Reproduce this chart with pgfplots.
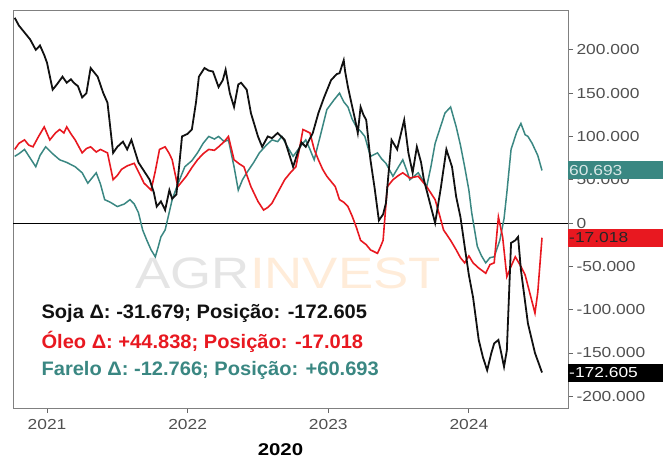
\documentclass[border=0pt]{standalone}
\usepackage{pgfplots}
\pgfplotsset{compat=1.18}
\usepackage{fontspec}
\setmainfont[FakeStretch=1.2]{Liberation Sans}
\newfontfamily\legfont[FakeStretch=1.03]{Liberation Sans Bold}
\usetikzlibrary{calc}
\definecolor{soja}{RGB}{17,17,17}
\definecolor{oleo}{RGB}{232,24,32}
\definecolor{farelo}{RGB}{58,135,130}
\definecolor{tickgray}{RGB}{80,80,80}

\begin{document}
\begin{tikzpicture}
\begin{axis}[
  scale only axis, width=555pt, height=398pt,
  xmin=2020.758, xmax=2024.705, ymin=-213600, ymax=246000,
  axis line style={black!50, line width=0.9pt},
  xtick={2021,2022,2023,2024}, xticklabels={2021,2022,2023,2024},
  ytick={-200000,-150000,...,200000},
  scaled y ticks=false,
  /pgf/number format/assume math mode=true,
  yticklabel={\pgfmathprintnumber[fixed,1000 sep={.}]{\tick}},
  xtick pos=left, ytick pos=right, yticklabel pos=right,
  tick align=outside, major tick length=5pt,
  tick style={black!60, line width=0.8pt},
  ticklabel style={font=\fontsize{14.5}{16}\selectfont, text=tickgray},
  xticklabel style={yshift=-3pt},
  xlabel={\textbf{2020}},
  xlabel style={font=\fontsize{17}{19}\selectfont, text=black, xshift=-10pt, yshift=-7pt},
  clip mode=individual,
]
\coordinate (SW) at (rel axis cs:0,0);
\coordinate (NE) at (rel axis cs:1,1);
\node[font=\fontsize{44}{44}\selectfont] at (axis cs:2022.715,-57700) {{\color{black!10}AGR}{\color{orange!15}INVEST}};

\addplot[black, line width=1pt] coordinates {(2020.758,0) (2024.705,0)};

% Farelo
\addplot[farelo, line width=1.5pt] coordinates {
(2020.77,77000) (2020.80,80000) (2020.84,85000) (2020.88,75000) (2020.92,65000) (2020.95,78000) (2020.99,88000)
(2021.04,80000) (2021.09,73000) (2021.14,70000) (2021.20,65000) (2021.25,58000) (2021.29,46000) (2021.35,58000)
(2021.38,45000) (2021.41,27000) (2021.45,24000) (2021.50,19000) (2021.55,22000) (2021.59,27000) (2021.62,22000)
(2021.65,12000) (2021.68,-8000) (2021.71,-20000) (2021.74,-31000) (2021.77,-39000) (2021.79,-28000) (2021.81,-16000)
(2021.84,-8000) (2021.89,27000) (2021.93,45000) (2021.98,65000) (2022.03,72000) (2022.07,81000) (2022.11,92000)
(2022.15,100000) (2022.19,97000) (2022.22,100000) (2022.26,94000) (2022.29,96000) (2022.33,65000) (2022.36,38000)
(2022.39,50000) (2022.42,58000) (2022.47,70000) (2022.51,81000) (2022.56,90000) (2022.60,96000) (2022.64,94000)
(2022.67,100000) (2022.71,88000) (2022.75,77000) (2022.80,88000) (2022.84,96000) (2022.87,85000) (2022.90,73000)
(2022.95,105000) (2022.99,131000) (2023.04,142000) (2023.08,150000) (2023.11,140000) (2023.14,134000) (2023.17,120000)
(2023.20,111000) (2023.23,106000) (2023.26,100000) (2023.30,77000) (2023.35,81000) (2023.38,74000) (2023.41,69000)
(2023.46,54000) (2023.50,65000) (2023.53,73000) (2023.56,60000) (2023.58,50000) (2023.64,58000) (2023.70,42000)
(2023.73,65000) (2023.76,92000) (2023.80,112000) (2023.83,127000) (2023.87,134000) (2023.91,111000) (2023.94,90000)
(2023.97,65000) (2024.00,38000) (2024.02,12000) (2024.06,-27000) (2024.09,-38000) (2024.12,-46000) (2024.15,-40000)
(2024.18,-39000) (2024.22,-20000) (2024.25,5000) (2024.27,35000) (2024.30,85000) (2024.34,105000) (2024.37,115000)
(2024.40,102000) (2024.42,100000) (2024.45,92000) (2024.49,78000) (2024.52,60693)
};

% Oleo
\addplot[oleo, line width=1.6pt] coordinates {
(2020.77,85000) (2020.80,92000) (2020.84,96000) (2020.87,90000) (2020.90,88000) (2020.94,100000) (2020.98,111000)
(2021.02,96000) (2021.06,104000) (2021.09,108000) (2021.12,104000) (2021.14,111000) (2021.17,103000) (2021.20,96000)
(2021.25,81000) (2021.28,86000) (2021.31,88000) (2021.35,82000) (2021.38,85000) (2021.43,81000) (2021.47,50000)
(2021.50,55000) (2021.53,62000) (2021.57,66000) (2021.62,69000) (2021.66,56000) (2021.69,46000) (2021.74,38000)
(2021.77,60000) (2021.80,85000) (2021.84,88000) (2021.87,80000) (2021.89,73000) (2021.93,42000) (2021.96,48000)
(2021.99,54000) (2022.03,64000) (2022.07,73000) (2022.11,80000) (2022.15,85000) (2022.19,84000) (2022.22,88000)
(2022.26,94000) (2022.29,100000) (2022.33,73000) (2022.37,68000) (2022.40,65000) (2022.45,42000) (2022.50,25000)
(2022.54,15000) (2022.57,18000) (2022.60,23000) (2022.64,35000) (2022.69,50000) (2022.73,58000) (2022.77,65000)
(2022.80,90000) (2022.82,108000) (2022.87,104000) (2022.90,85000) (2022.93,73000) (2022.96,62000) (2022.99,54000)
(2023.02,48000) (2023.05,42000) (2023.08,27000) (2023.11,24000) (2023.14,19000) (2023.17,8000) (2023.20,-5000)
(2023.23,-20000) (2023.27,-25000) (2023.30,-31000) (2023.35,-35000) (2023.37,-28000) (2023.39,-20000) (2023.42,42000)
(2023.46,50000) (2023.50,55000) (2023.53,58000) (2023.58,52000) (2023.64,54000) (2023.67,48000) (2023.70,42000)
(2023.76,27000) (2023.79,10000) (2023.82,-8000) (2023.87,-20000) (2023.91,-31000) (2023.94,-40000) (2023.97,-46000)
(2024.00,-38000) (2024.03,-46000) (2024.07,-52000) (2024.12,-58000) (2024.15,-48000) (2024.18,-46000) (2024.21,7000)
(2024.24,-16000) (2024.27,-62000) (2024.30,-50000) (2024.33,-39000) (2024.37,-50000) (2024.40,-60000) (2024.44,-85000)
(2024.47,-104000) (2024.49,-80000) (2024.52,-17018)
};

% Soja
\addplot[soja, line width=1.8pt] coordinates {
(2020.77,237000) (2020.80,228000) (2020.84,220000) (2020.88,212000) (2020.92,200000) (2020.95,205000) (2020.98,194000)
(2021.00,185000) (2021.04,154000) (2021.07,160000) (2021.11,169000) (2021.14,162000) (2021.17,166000) (2021.19,162000)
(2021.22,158000) (2021.25,145000) (2021.28,150000) (2021.31,179000) (2021.36,169000) (2021.40,150000) (2021.43,139000)
(2021.47,81000) (2021.50,88000) (2021.54,94000) (2021.57,85000) (2021.60,96000) (2021.65,70000) (2021.69,60000)
(2021.73,50000) (2021.76,35000) (2021.78,19000) (2021.81,25000) (2021.84,15000) (2021.87,38000) (2021.89,28000)
(2021.92,33000) (2021.96,100000) (2022.00,103000) (2022.03,108000) (2022.06,140000) (2022.08,169000) (2022.12,179000)
(2022.15,176000) (2022.18,175000) (2022.22,157000) (2022.25,165000) (2022.27,177000) (2022.30,150000) (2022.33,134000)
(2022.36,160000) (2022.38,162000) (2022.42,154000) (2022.45,127000) (2022.50,100000) (2022.53,88000) (2022.57,100000)
(2022.60,98000) (2022.64,104000) (2022.69,96000) (2022.75,65000) (2022.78,80000) (2022.81,93000) (2022.84,88000)
(2022.89,104000) (2022.93,127000) (2022.97,145000) (2023.02,165000) (2023.06,172000) (2023.08,173000) (2023.11,188000)
(2023.12,175000) (2023.14,157000) (2023.16,142000) (2023.19,120000) (2023.21,104000) (2023.23,134000) (2023.25,125000)
(2023.27,119000) (2023.30,73000) (2023.33,40000) (2023.36,3000) (2023.39,10000) (2023.41,23000) (2023.45,96000)
(2023.49,85000) (2023.54,119000) (2023.57,81000) (2023.60,58000) (2023.63,88000) (2023.66,70000) (2023.68,50000)
(2023.72,25000) (2023.76,0) (2023.80,40000) (2023.84,85000) (2023.88,65000) (2023.91,30000) (2023.94,7000)
(2023.97,-27000) (2024.00,-60000) (2024.03,-86000) (2024.07,-135000) (2024.10,-155000) (2024.13,-170000) (2024.16,-150000)
(2024.18,-139000) (2024.21,-135000) (2024.23,-150000) (2024.25,-166000) (2024.27,-147000) (2024.30,-23000) (2024.33,-20000)
(2024.35,-16000) (2024.37,-54000) (2024.42,-116000) (2024.47,-150000) (2024.52,-172605)
};

\node[anchor=west, text=soja, font=\legfont\fontsize{19.5}{22}\selectfont] at (axis cs:2020.936,-104000) {Soja Δ: -31.679; Posição: -172.605};
\node[anchor=west, text=oleo, font=\legfont\fontsize{19.5}{22}\selectfont] at (axis cs:2020.936,-137400) {Óleo Δ: +44.838; Posição: -17.018};
\node[anchor=west, text=farelo, font=\legfont\fontsize{19.5}{22}\selectfont] at (axis cs:2020.936,-169700) {Farelo Δ: -12.766; Posição: +60.693};

\coordinate (Lf) at (axis cs:2024.705,60693);
\coordinate (Lo) at (axis cs:2024.705,-17018);
\coordinate (Ls) at (axis cs:2024.705,-172605);
\end{axis}
\begin{scope}[every node/.style={anchor=west, inner xsep=1pt, inner ysep=0pt, text width=93pt, minimum height=18pt, align=left, font=\fontsize{14.5}{16}\selectfont}]
\node[fill=farelo, text=white!80!farelo] at (Lf) {60.693};
\node[fill=oleo, text=black!85] at (Lo) {-17.018};
\node[fill=black, text=white] at (Ls) {-172.605};
\end{scope}
\pgfresetboundingbox
\path[use as bounding box] ($(SW)+(-13pt,-50pt)$) rectangle ($(NE)+(95pt,10pt)$);
\end{tikzpicture}
\end{document}
